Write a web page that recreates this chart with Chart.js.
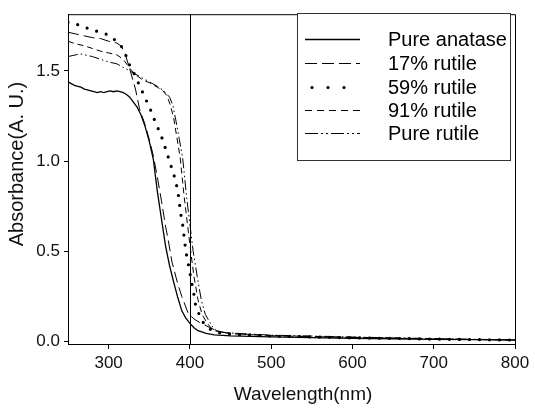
<!DOCTYPE html>
<html>
<head>
<meta charset="utf-8">
<script src="https://cdn.jsdelivr.net/npm/chart.js@4.4.0/dist/chart.umd.min.js"></script>
<style>
  html, body { margin:0; padding:0; background:#fff; }
  #wrap { width:535px; height:409px; }
</style>
</head>
<body>
<div id="wrap"><canvas id="absChart" width="535" height="409"></canvas></div>
<script>
// tick values and labels
const xTicks = [300, 400, 500, 600, 700, 800];
const yTicks = [0, 0.5, 1.0, 1.5];
const seriesNames = ['Pure anatase', '17% rutile', '59% rutile', '91% rutile', 'Pure rutile'];
const markerWl = 400;

// absorbance curves (wavelength nm / absorbance)
const anataseWl  = [250,254,258,262,266,270,274,278,282,286,290,294,298,302,306,310,314,318,322,326,330,335,340,345,350,355,360,365,370,375,380,385,390,395,400,405,410,420,430,450,500,550,600,650,700,750,800];
const anataseAbs = [1.44,1.43,1.42,1.415,1.41,1.40,1.395,1.39,1.385,1.38,1.385,1.38,1.385,1.39,1.385,1.39,1.385,1.38,1.37,1.355,1.33,1.30,1.255,1.19,1.11,1.01,0.83,0.68,0.53,0.42,0.33,0.245,0.17,0.13,0.10,0.076,0.06,0.045,0.037,0.031,0.025,0.021,0.018,0.015,0.012,0.01,0.008];

const r17Wl  = [250,260,270,280,290,300,310,315,320,326,333,338,345,350,355,360,365,370,373,378,385,390,398,405,412,424,435,450,500,550,600,650,700,750,800];
const r17Abs = [1.715,1.705,1.695,1.685,1.68,1.665,1.655,1.64,1.60,1.51,1.40,1.29,1.20,1.12,1.03,0.91,0.78,0.64,0.57,0.44,0.32,0.25,0.155,0.125,0.105,0.078,0.055,0.044,0.032,0.027,0.022,0.018,0.014,0.011,0.009];

const r59Wl  = [250,255,260,272,289,300,306,310,316,321,326,332,338,341,349,352,358,364,367,370,377,380,385,389,391,395,398,402,405,407,411,417,424,430,440,460,500,550,600,650,700,750,800];
const r59Abs = [1.77,1.765,1.76,1.74,1.715,1.70,1.68,1.66,1.635,1.59,1.53,1.48,1.42,1.39,1.31,1.28,1.21,1.15,1.11,1.07,0.97,0.93,0.84,0.70,0.65,0.50,0.43,0.33,0.26,0.20,0.155,0.10,0.07,0.055,0.045,0.038,0.03,0.025,0.02,0.017,0.013,0.01,0.008];

const r91Wl  = [250,260,270,280,290,300,310,318,325,333,342,350,360,367,372,376,380,384,388,393,397,401,405,410,415,420,425,430,440,450,500,550,600,650,700,750,800];
const r91Abs = [1.665,1.65,1.64,1.625,1.61,1.60,1.59,1.565,1.52,1.48,1.45,1.435,1.41,1.39,1.36,1.31,1.24,1.13,1.02,0.80,0.65,0.50,0.36,0.23,0.15,0.11,0.08,0.06,0.05,0.045,0.033,0.028,0.023,0.019,0.015,0.011,0.008];

const rutileWl  = [250,255,260,265,270,280,290,300,310,320,330,340,350,360,368,375,379,383,387,391,396,400,404,409,414,419,424,428,433,440,450,500,550,600,650,700,750,800];
const rutileAbs = [1.58,1.585,1.59,1.595,1.59,1.58,1.565,1.55,1.54,1.515,1.49,1.465,1.44,1.415,1.39,1.355,1.31,1.22,1.12,1.02,0.80,0.65,0.50,0.36,0.23,0.15,0.11,0.08,0.06,0.052,0.047,0.035,0.03,0.025,0.02,0.016,0.012,0.009];

const FONT = '"Liberation Sans", Arial, sans-serif';
const zip = (xs, ys) => xs.map((x, i) => ({x: x, y: ys[i]}));

// line styles for plot and legend
const plotDash   = [[], [11,5], [0,10], [6,4], [10,3,1.5,3,1.5,3]];
const legendDash = [[], [12,5], [0,16], [7,5], [13,3,2,3,2,3]];
const widths     = [1.3, 1, 3.2, 1, 1];

function mkSet(i, wl, ab){
  return {
    label: seriesNames[i], data: zip(wl, ab), showLine:true, pointRadius:0,
    borderColor:'#000', borderWidth: widths[i], borderDash: plotDash[i],
    borderCapStyle: i===2 ? 'round' : 'butt', tension:0, fill:false
  };
}

const extras = {
  id:'extras',
  afterDatasetsDraw(chart){
    const {ctx, chartArea:a, scales:{x}} = chart;
    ctx.save();
    ctx.strokeStyle = '#000'; ctx.lineWidth = 1; ctx.setLineDash([]);
    // top/right frame
    ctx.beginPath();
    ctx.moveTo(a.left, a.top + 0.5); ctx.lineTo(a.right + 0.5, a.top + 0.5); ctx.lineTo(a.right + 0.5, a.bottom);
    ctx.stroke();
    // 400 nm marker
    const mx = Math.round(x.getPixelForValue(markerWl)) + 0.5;
    ctx.beginPath(); ctx.moveTo(mx, a.top); ctx.lineTo(mx, a.bottom); ctx.stroke();

    // legend box
    ctx.fillStyle = '#fff'; ctx.strokeStyle = '#333';
    ctx.fillRect(297, 13, 213, 147);
    ctx.strokeRect(297.5, 13.5, 213, 147);
    ctx.font = '20px ' + FONT; ctx.textBaseline = 'middle'; ctx.fillStyle = '#000';
    const rows = [39, 63, 87, 110, 133];
    seriesNames.forEach((name, i) => {
      const y = rows[i] + 0.5;
      ctx.strokeStyle = '#000';
      if (i === 2) {
        ctx.lineWidth = 3.2; ctx.lineCap = 'round'; ctx.setLineDash(legendDash[i]);
        ctx.beginPath(); ctx.moveTo(312, y); ctx.lineTo(360, y); ctx.stroke();
      } else {
        ctx.lineWidth = i === 0 ? 1.3 : 1.2; ctx.lineCap = 'butt'; ctx.setLineDash(legendDash[i]);
        ctx.beginPath(); ctx.moveTo(305, y); ctx.lineTo(360, y); ctx.stroke();
      }
      ctx.fillText(name, 388, rows[i] + 1);
    });
    ctx.setLineDash([]);

    // axis titles
    ctx.fillStyle = '#111';
    ctx.textAlign = 'center';
    ctx.font = '19px ' + FONT;
    ctx.fillText('Wavelength(nm)', 303, 395);
    ctx.translate(17, 164); ctx.rotate(-Math.PI/2);
    ctx.font = '20px ' + FONT;
    ctx.fillText('Absorbance(A. U.)', 0, 0);
    ctx.restore();
  }
};

new Chart(document.getElementById('absChart').getContext('2d'), {
  type:'scatter',
  data:{ datasets:[
    mkSet(0, anataseWl, anataseAbs),
    mkSet(1, r17Wl, r17Abs),
    mkSet(2, r59Wl, r59Abs),
    mkSet(3, r91Wl, r91Abs),
    mkSet(4, rutileWl, rutileAbs)
  ]},
  options:{
    responsive:false, animation:false,
    layout:{ padding:{top:7, right:20, left:0, bottom:0} },
    plugins:{ legend:{display:false}, tooltip:{enabled:false} },
    scales:{
      x:{
        type:'linear', min:250, max:800,
        afterBuildTicks: s => { s.ticks = xTicks.map(v => ({value:v})); },
        afterFit: s => { s.height = 65; },
        grid:{ drawOnChartArea:false, drawTicks:true, tickLength:5, color:'#000' },
        border:{ color:'#000', width:1 },
        ticks:{ color:'#111', padding:4, font:{family:FONT, size:17}, maxRotation:0, callback: v => String(v) }
      },
      y:{
        type:'linear', min:-0.014, max:1.815,
        afterBuildTicks: s => { s.ticks = yTicks.map(v => ({value:v})); },
        afterFit: s => { s.width = 68; },
        grid:{ drawOnChartArea:false, drawTicks:true, tickLength:4, color:'#000' },
        border:{ color:'#000', width:1 },
        ticks:{ color:'#111', padding:4, font:{family:FONT, size:17}, callback: v => v.toFixed(1) }
      }
    }
  },
  plugins:[extras]
});
</script>
</body>
</html>
